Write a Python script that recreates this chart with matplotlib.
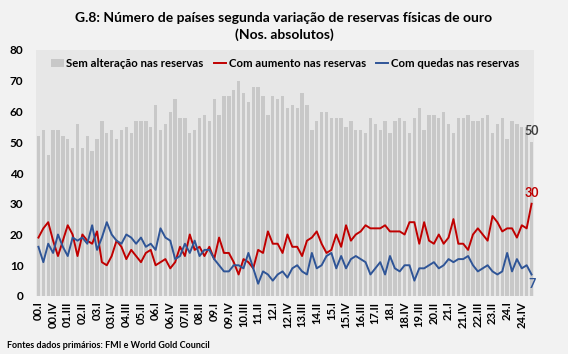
import numpy as np
import matplotlib.pyplot as plt

plt.rcParams['font.family'] = ['Lato', 'DejaVu Sans']
plt.rcParams['font.weight'] = 'bold'

# quarters 00.I .. 25.II
roman = ['I', 'II', 'III', 'IV']
quarters = ['%02d.%s' % (y, roman[q]) for y in range(0, 26) for q in range(4)][:102]

sem_alteracao = [52, 54, 46, 54, 54, 52, 51, 48, 56, 48, 52, 47, 51, 57, 53, 54, 51,
                 54, 55, 53, 57, 57, 57, 55, 62, 54, 56, 60, 64, 58, 58, 53, 54, 58,
                 59, 57, 64, 59, 65, 65, 67, 70, 66, 63, 68, 68, 65, 59, 65, 64, 65,
                 61, 62, 61, 66, 62, 54, 57, 60, 60, 58, 58, 58, 55, 57, 54, 54, 53,
                 58, 56, 54, 57, 53, 57, 58, 57, 53, 58, 61, 54, 59, 59, 58, 60, 56,
                 53, 58, 58, 59, 57, 57, 58, 59, 53, 56, 58, 51, 57, 56, 55, 55, 50]

com_aumento = [19, 22, 24, 18, 13, 18, 23, 20, 13, 20, 18, 17, 21, 11, 10, 13, 18,
               16, 12, 15, 13, 11, 14, 15, 10, 11, 12, 9, 11, 16, 13, 20, 15, 16,
               13, 16, 12, 19, 14, 14, 11, 7, 12, 11, 9, 15, 14, 21, 17, 17, 14,
               20, 16, 16, 13, 18, 19, 21, 17, 14, 15, 20, 16, 23, 18, 20, 21, 23,
               22, 22, 22, 23, 21, 21, 21, 20, 24, 24, 17, 24, 18, 17, 20, 17, 19,
               25, 17, 17, 15, 20, 22, 20, 18, 26, 24, 21, 22, 22, 19, 23, 22, 30]

com_quedas = [16, 11, 17, 14, 20, 16, 13, 19, 18, 19, 17, 23, 15, 19, 24, 20, 18,
              17, 20, 19, 17, 19, 16, 17, 15, 22, 19, 18, 12, 13, 17, 14, 18, 13,
              15, 15, 12, 10, 8, 8, 10, 10, 9, 14, 9, 4, 8, 7, 5, 7, 8,
              6, 9, 10, 8, 7, 14, 9, 10, 13, 14, 9, 13, 9, 12, 13, 12, 11,
              7, 9, 11, 7, 13, 9, 8, 10, 10, 5, 9, 9, 10, 11, 9, 10, 12,
              11, 12, 12, 13, 10, 8, 9, 10, 8, 7, 8, 14, 8, 12, 9, 10, 7]

x = np.arange(len(quarters))

fig = plt.figure(figsize=(5.68, 3.54), dpi=100, facecolor='#F2F2F2')
ax = fig.add_axes([36/568, 1-296/354, 498/568, 246/354])
ax.set_facecolor('#E7E7E7')

b = ax.bar(x, sem_alteracao, width=0.68, color='#C8C8C8', label='Sem alteração nas reservas', zorder=2)
l1, = ax.plot(x, com_aumento, color='#C00000', lw=1.4, label='Com aumento nas reservas', zorder=3)
l2, = ax.plot(x, com_quedas, color='#2F5597', lw=1.4, label='Com quedas nas reservas', zorder=3)

ax.set_xlim(-0.5, 101.5)
ax.set_ylim(0, 80)
ax.set_yticks(range(0, 81, 10))
ax.set_xticks(x[::3])
ax.set_xticklabels(quarters[::3], rotation=90, fontsize=8, fontweight='bold')
ax.tick_params(axis='y', labelsize=8.5, length=0, pad=9)
ax.tick_params(axis='x', length=0, pad=4)
for s in ax.spines.values():
    s.set_visible(False)

ax.text(101, 53.5, '50', color='#404040', fontsize=9, fontweight='bold', ha='center', va='center')
ax.text(101, 33.5, '30', color='#C00000', fontsize=9, fontweight='bold', ha='center', va='center')
ax.text(101, 4, '7', color='#2F5597', fontsize=9, fontweight='bold', ha='center', va='center')

ax.legend([b, l1, l2], [b.get_label(), l1.get_label(), l2.get_label()],
          loc='upper left', bbox_to_anchor=(0.015, 1.0), ncol=3, frameon=False,
          fontsize=8.2, handlelength=1.1, handletextpad=0.2, columnspacing=0.9,
          borderaxespad=0.3)

fig.text(0.5, 0.965, 'G.8: Número de países segunda variação de reservas físicas de ouro\n(Nos. absolutos)',
         ha='center', va='top', fontsize=10, fontweight='bold', linespacing=1.35)
fig.text(0.012, 0.012, 'Fontes dados primários: FMI e World Gold Council', fontsize=6.5,
         fontweight='bold', ha='left', va='bottom')

fig.savefig('out.png', dpi=100, facecolor=fig.get_facecolor())
